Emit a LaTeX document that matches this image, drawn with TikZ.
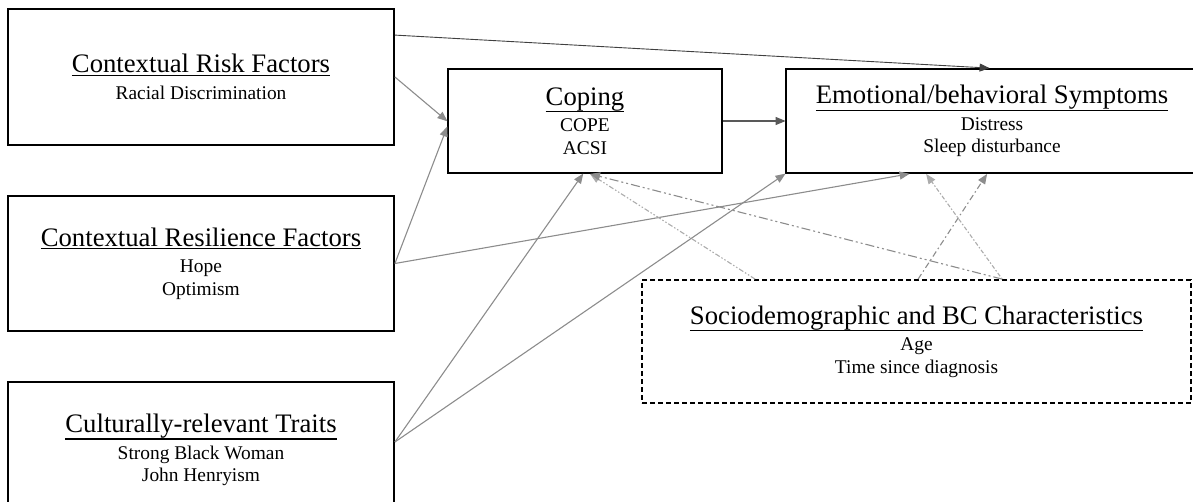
\documentclass[tikz,border=0pt]{standalone}
\usepackage{fontspec}
\setmainfont{Liberation Serif}
\usetikzlibrary{arrows.meta}
\newcommand\hdul[1]{\setbox0\hbox{#1}\leavevmode\rlap{\rule[-\dimexpr\dp0*3/4+2.8pt\relax]{\wd0}{1.3pt}}\box0}
\newcommand\hd[1]{{\fontsize{26.7}{28}\selectfont\hdul{#1}}}
\tikzset{
  box/.style={draw=black, line width=1.8pt, rectangle, align=center, inner sep=0pt,
    font=\fontsize{19.4}{22.5}\selectfont},
  dbox/.style={box, dash pattern=on 5pt off 3pt},
  conn/.style={line width=1.1pt, draw=gray!90, -{Triangle[length=10pt,width=8pt]}, shorten >=-0.5pt},
  darkconn/.style={conn, draw=black!75, line width=0.9pt},
  ddot/.style={line width=1.1pt, -{Triangle[length=10pt,width=8pt]}}
}
\begin{document}
\begin{tikzpicture}[x=1pt, y=-1pt]
\useasboundingbox (0,0) rectangle (1193,502);
\node[box, minimum width=386pt, minimum height=136pt] (risk) at (201,77)
  {\hd{Contextual Risk Factors}\\[4pt] Racial Discrimination};
\node[box, minimum width=386pt, minimum height=135pt] (resil) at (201,263.5)
  {\hd{Contextual Resilience Factors}\\[4pt] Hope\\ Optimism};
\node[box, minimum width=386pt, minimum height=136pt] (cult) at (201,450)
  {\hd{Culturally-relevant Traits}\\[4pt] Strong Black Woman\\ John Henryism};
\node[box, minimum width=274pt, minimum height=104pt] (coping) at (585,121)
  {\hd{Coping}\\[4pt] COPE\\ ACSI};
\node[box, minimum width=412pt, minimum height=104pt] (emot) at (992,121)
  {\hd{Emotional/behavioral Symptoms}\\[4pt] Distress\\ Sleep disturbance};
\node[dbox, minimum width=549pt, minimum height=123pt] (socio) at (916.5,341.5)
  {\hd{Sociodemographic and BC Characteristics}\\[4pt] Age\\ Time since diagnosis};

% solid connectors
\draw[darkconn] ([yshift=-27pt]risk.north east) -- ([xshift=204pt]emot.north west);
\draw[conn] (risk.east) -- (coping.west);
\draw[conn] (resil.east) -- ([yshift=-6pt]coping.west);
\draw[conn] (resil.east) -- ([xshift=124pt]emot.south west);
\draw[conn] ([yshift=8pt]cult.east) -- ([xshift=-2pt]coping.south);
\draw[conn] ([yshift=8pt]cult.east) -- (emot.south west);
\draw[conn, draw=black!65] (coping.east) -- (emot.west);

% covariate connectors
\draw[ddot, draw=gray!65, dash pattern=on 5pt off 2pt on 1.5pt off 2pt on 1.5pt off 2pt]
  ([xshift=114pt]socio.north west) -- ([xshift=5pt]coping.south);
\draw[ddot, draw=gray!90, dash pattern=on 9pt off 3pt on 2pt off 3pt on 2pt off 3pt]
  ([xshift=361pt]socio.north west) -- ([xshift=5pt]coping.south);
\draw[ddot, draw=gray!90, dash pattern=on 6pt off 3pt on 1.5pt off 3pt]
  ([xshift=277pt]socio.north west) -- ([xshift=202pt]emot.south west);
\draw[ddot, draw=gray!65, dash pattern=on 1.5pt off 2pt on 4pt off 2pt]
  ([xshift=361pt]socio.north west) -- ([xshift=141pt]emot.south west);
\end{tikzpicture}
\end{document}
